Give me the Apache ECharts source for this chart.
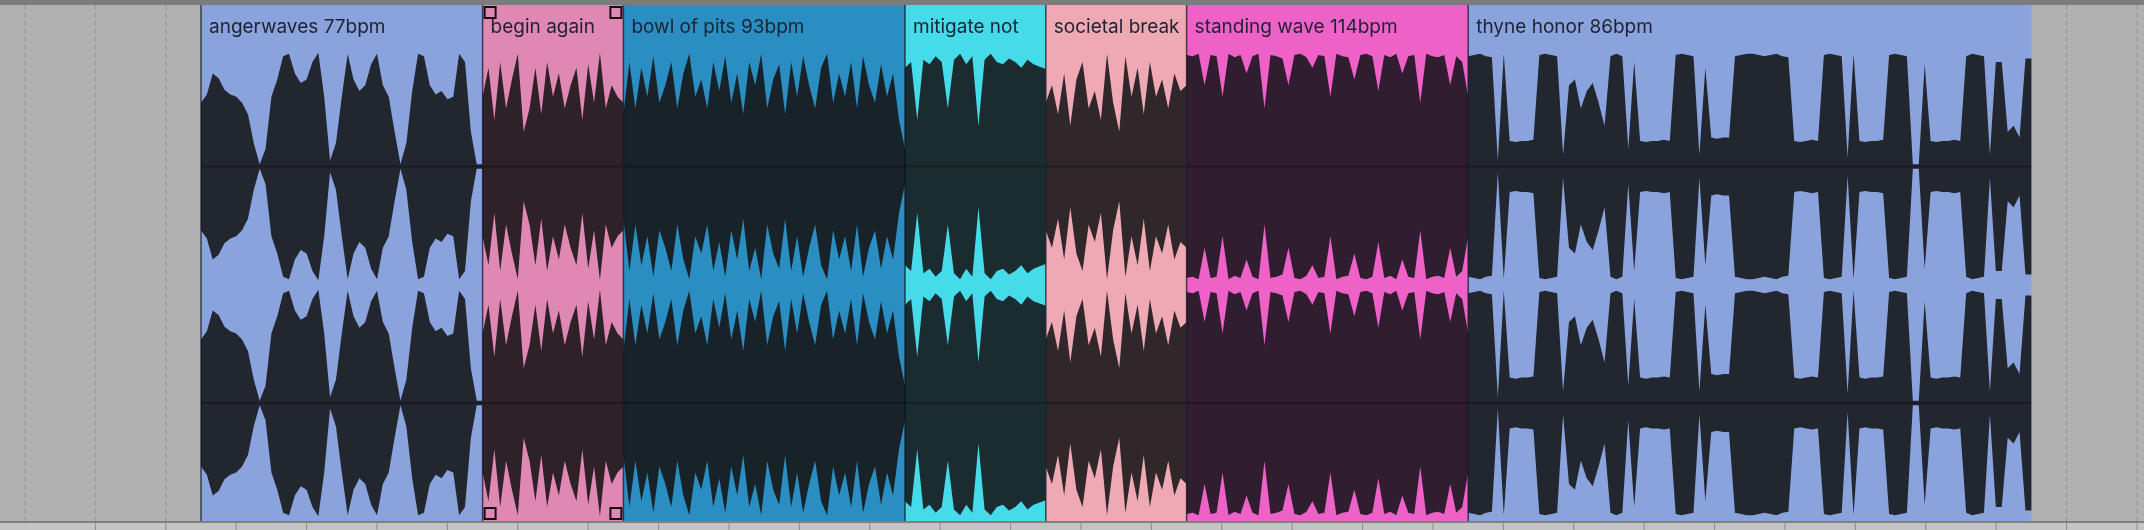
<!DOCTYPE html>
<html><head><meta charset="utf-8">
<script src="https://cdn.jsdelivr.net/npm/echarts@6/dist/echarts.min.js"></script>
<style>html,body{margin:0;padding:0;background:#b1b1b1}#c{width:2144px;height:530px}</style>
</head><body><div id="c"></div>
<script>
const clipNames = ['angerwaves 77bpm','begin again','bowl of pits 93bpm','mitigate not','societal break','standing wave 114bpm','thyne honor 86bpm'];
const clipStarts = [0,4,6,10,12,14,18];
const clipLengths = [4,2,4,2,2,4,8];
const clipColors = ['#8aa3dd','#e088b4','#2a8ec2','#45dbe9','#eea9b5','#ee62c8','#8aa3dd'];
const waveColors = ['#22262f','#2e2128','#172229','#1b2c30','#30272a','#301d2f','#22262f'];
const gridTicks = [-2.5,-1.5,-0.5,26.5,27.5];

const ampAnger = [0.55,0.62,0.8,0.76,0.66,0.62,0.6,0.55,0.45,0.2,0.02,0.15,
 0.6,0.75,0.95,0.97,0.8,0.72,0.75,0.9,0.98,0.6,0.05,0.2,
 0.6,0.97,0.75,0.65,0.7,0.88,0.97,0.7,0.6,0.3,0.02,0.2,
 0.65,0.97,0.95,0.7,0.62,0.65,0.58,0.6,0.97,0.9,0.3,0.02,0.02];
const ampBegin = [0.6,0.85,0.4,0.9,0.5,0.75,0.97,0.3,0.5,0.85,0.45,0.9,0.6,0.8,0.5,0.7,0.85,0.4,0.88,0.55,0.98,0.5,0.7,0.6,0.55];
const ampBowl = [0.45,0.9,0.5,0.85,0.6,0.95,0.55,0.7,0.9,0.5,0.8,0.97,0.6,0.75,0.5,0.9,0.65,0.95,0.55,0.8,0.45,0.9,0.7,0.97,0.5,0.75,0.88,0.45,0.9,0.6,0.95,0.7,0.5,0.85,0.97,0.55,0.8,0.6,0.9,0.5,0.95,0.7,0.55,0.88,0.6,0.8,0.4,0.15];
const ampMitigate = [0.85,0.9,0.4,0.92,0.88,0.95,0.9,0.5,0.92,0.97,0.88,0.95,0.35,0.92,0.97,0.9,0.88,0.93,0.9,0.85,0.92,0.88,0.86,0.84];
const ampSocietal = [0.55,0.7,0.45,0.8,0.35,0.75,0.9,0.5,0.65,0.4,0.97,0.55,0.3,0.95,0.6,0.85,0.45,0.9,0.6,0.75,0.5,0.8,0.65,0.7];
const ampStanding = [0.96,0.95,0.97,0.7,0.96,0.95,0.6,0.97,0.94,0.96,0.8,0.95,0.97,0.5,0.96,0.95,0.93,0.7,0.96,0.97,0.94,0.85,0.96,0.95,0.6,0.97,0.95,0.94,0.75,0.96,0.97,0.95,0.65,0.96,0.94,0.97,0.8,0.95,0.96,0.55,0.97,0.95,0.94,0.96,0.7,0.95,0.9,0.6];
const ampThyne = [0.95,0.96,0.97,0.95,0.94,0.05,0.97,0.22,0.21,0.22,0.22,0.23,0.96,0.97,0.96,0.95,0.1,0.7,0.75,0.5,0.65,0.72,0.55,0.35,
 0.95,0.97,0.95,0.15,0.9,0.22,0.21,0.22,0.22,0.23,0.22,0.96,0.97,0.96,0.95,0.1,0.85,0.25,0.24,0.25,0.25,
 0.95,0.96,0.97,0.97,0.96,0.95,0.96,0.97,0.95,0.94,0.22,0.21,0.22,0.23,0.22,0.96,0.97,0.96,0.95,0.08,0.97,
 0.22,0.21,0.22,0.22,0.23,0.96,0.97,0.96,0.95,0.02,0.02,0.88,0.22,0.21,0.22,0.22,0.23,0.22,
 0.95,0.97,0.96,0.95,0.1,0.9,0.9,0.3,0.35,0.25,0.93,0.93];
const clipAmps = [ampAnger,ampBegin,ampBowl,ampMitigate,ampSocietal,ampStanding,ampThyne];

const PX = 70.4, X0 = 201;
const chart = echarts.init(document.getElementById('c'));
const TOP=5, HEAD=48, BOT=521, MID=285;
const chans = [[(HEAD+MID)/2,(MID-HEAD)/2],[(MID+BOT)/2,(BOT-MID)/2]];

function renderClip(params, api){
  const i = api.value(0);
  const s = clipStarts[i], L = clipLengths[i];
  const p0 = api.coord([s, TOP]), p1 = api.coord([s+L, BOT]);
  const w = p1[0]-p0[0];
  const ch = [];
  ch.push({type:'rect',shape:{x:p0[0],y:p0[1],width:w,height:p1[1]-p0[1]},style:{fill:clipColors[i]}});
  const amps = clipAmps[i], n = amps.length;
  chans.forEach(([c,h])=>{
    const top=[], bot=[];
    for(let k=0;k<n;k++){
      const xu = s + L*k/(n-1);
      const a = amps[k]*0.98;
      top.push(api.coord([xu, c - a*h]));
      bot.push(api.coord([xu, c + a*h]));
    }
    ch.push({type:'polygon',shape:{points:top.concat(bot.reverse())},style:{fill:waveColors[i]}});
    const y = api.coord([s,c])[1];
    ch.push({type:'line',shape:{x1:p0[0],y1:y,x2:p1[0],y2:y},style:{stroke:'rgba(0,0,0,0.35)',lineWidth:1.5}});
  });
  ch.push({type:'text',style:{text:clipNames[i],x:p0[0]+8,y:api.coord([s,27])[1],verticalAlign:'middle',
    fill:'#1d2330',font:'19px Inter, "Noto Sans", sans-serif',width:w-9,overflow:'truncate',ellipsis:''}});
  ch.push({type:'line',shape:{x1:p0[0],y1:p0[1],x2:p0[0],y2:p1[1]},style:{stroke:'rgba(10,15,30,0.7)',lineWidth:1.5}});
  if(i===1){
    const sq=(x,y)=>({type:'rect',shape:{x:x,y:y,width:11,height:11},style:{fill:clipColors[1],stroke:'#111',lineWidth:2}});
    ch.push(sq(p0[0]+2,7),sq(p1[0]-13,7),sq(p0[0]+2,508),sq(p1[0]-13,508));
  }
  return {type:'group',children:ch};
}
function renderGrid(params, api){
  const x = api.coord([api.value(0),0])[0];
  return {type:'line',shape:{x1:x,y1:TOP,x2:x,y2:BOT},style:{stroke:'#9a9a9a',lineWidth:1.5,lineDash:[4,4]}};
}
const allTicks = [];
for(let t=-2;t<=27;t++) allTicks.push(t+0.5);
function renderTick(params, api){
  const x = api.coord([api.value(0),0])[0];
  return {type:'line',shape:{x1:x,y1:BOT+2,x2:x,y2:530},style:{stroke:'#8c8c8c',lineWidth:1}};
}
chart.setOption({
  animation:false,
  backgroundColor:'#b1b1b1',
  grid:{left:0,right:0,top:0,bottom:0},
  xAxis:{type:'value',min:-X0/PX,max:(2144-X0)/PX,show:false},
  yAxis:{type:'value',min:0,max:530,inverse:true,show:false},
  graphic:[
    {type:'rect',shape:{x:0,y:0,width:2144,height:TOP},style:{fill:'#7c7c7c'},z:100},
    {type:'rect',shape:{x:0,y:BOT,width:2144,height:530-BOT},style:{fill:'#c4c4c4'},z:-1},
    {type:'line',shape:{x1:0,y1:BOT+1,x2:2144,y2:BOT+1},style:{stroke:'#808080',lineWidth:2},z:100}
  ],
  series:[
    {type:'custom',data:gridTicks.map(v=>[v]),renderItem:renderGrid,silent:true,z:1},
    {type:'custom',data:allTicks.map(v=>[v]),renderItem:renderTick,silent:true,z:1},
    {type:'custom',data:clipNames.map((n,i)=>[i]),renderItem:renderClip,silent:true,z:2}
  ]
});
</script></body></html>
